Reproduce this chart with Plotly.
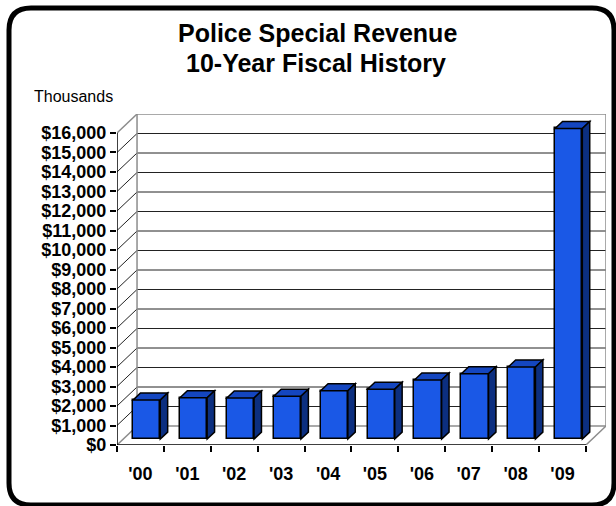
import plotly.graph_objects as go

# ---- data ----
years = ["'00", "'01", "'02", "'03", "'04", "'05", "'06", "'07", "'08", "'09"]
revenue = [2000, 2120, 2110, 2200, 2480, 2560, 3030, 3350, 3700, 15930]
y_ticks = list(range(0, 16001, 1000))
y_tick_text = [f"${v:,}" for v in y_ticks]

FONT = "Liberation Sans, Arial, sans-serif"
YMAX = 16000
D = 0.427      # depth of the 3D box in category units
DV = 974       # depth of the 3D box in value units
F = 0.31       # depth position of bar front
BD = 0.37      # bar depth fraction
W = 0.58       # bar width (categories)
n = len(years)

FRONT = "#1a58e6"
TOP = "#1446c0"
SIDE = "#0c2f80"
GRID = "#222222"
EDGE = "#8c8c8c"

x_front = [i + 0.5 + F * D for i in range(n)]
base = F * DV

fig = go.Figure()
fig.add_trace(go.Bar(
    x=x_front, y=revenue, base=base, width=W,
    marker=dict(color=FRONT, line=dict(color="black", width=1.5)),
    hoverinfo="skip", showlegend=False,
))

shapes = []

def line(x0, y0, x1, y1, color, width=1, layer="below"):
    shapes.append(dict(type="line", xref="x", yref="y", x0=x0, y0=y0, x1=x1, y1=y1,
                       line=dict(color=color, width=width), layer=layer))

# back wall gridlines and left wall diagonals
for v in y_ticks[1:-1]:
    line(D, v + DV, n + D, v + DV, GRID)
    line(0, v, D, v + DV, GRID)
# walls/floor edges
line(D, DV, D, YMAX + DV, EDGE, 1.5)
line(n + D, DV, n + D, YMAX + DV, EDGE, 1.5)
line(D, YMAX + DV, n + D, YMAX + DV, EDGE, 1.5)
line(0, YMAX, D, YMAX + DV, EDGE, 1.5)
line(D, DV, n + D, DV, EDGE, 1.5)
line(0, 0, D, DV, EDGE, 1.5)
line(n, 0, n + D, DV, EDGE, 1.5)
# axes lines
line(0, 0, 0, YMAX, "black", 1.5)
line(0, 0, n, 0, "black", 1.5)

# bar top and side faces
dx = BD * D
dy = BD * DV
for xc, v in zip(x_front, revenue):
    xl = xc - W / 2
    xr = xc + W / 2
    yt = base + v
    top = f"M{xl},{yt} L{xr},{yt} L{xr+dx},{yt+dy} L{xl+dx},{yt+dy} Z"
    side = f"M{xr},{base} L{xr},{yt} L{xr+dx},{yt+dy} L{xr+dx},{base+dy} Z"
    shapes.append(dict(type="path", xref="x", yref="y", path=top, fillcolor=TOP,
                       line=dict(color="black", width=1.5), layer="above"))
    shapes.append(dict(type="path", xref="x", yref="y", path=side, fillcolor=SIDE,
                       line=dict(color="black", width=1.5), layer="above"))

# rounded outer frame (pixel -> paper conversion)
L, T, R, B = 117, 114, 606, 445
def px(xp):
    return (xp - L) / (R - L)
def py(yp):
    return (B - yp) / (B - T)
fx0, fy0, fx1, fy1, rad = 9, 8, 614, 505, 22
frame = (f"M{px(fx0+rad)},{py(fy0)} L{px(fx1-rad)},{py(fy0)} "
         f"Q{px(fx1)},{py(fy0)} {px(fx1)},{py(fy0+rad)} "
         f"L{px(fx1)},{py(fy1-rad)} Q{px(fx1)},{py(fy1)} {px(fx1-rad)},{py(fy1)} "
         f"L{px(fx0+rad)},{py(fy1)} Q{px(fx0)},{py(fy1)} {px(fx0)},{py(fy1-rad)} "
         f"L{px(fx0)},{py(fy0+rad)} Q{px(fx0)},{py(fy0)} {px(fx0+rad)},{py(fy0)} Z")
shapes.append(dict(type="path", xref="paper", yref="paper", path=frame,
                   line=dict(color="black", width=5), layer="above"))

annotations = [
    dict(text="Police Special Revenue", x=px(317), y=py(33), xref="paper", yref="paper",
         showarrow=False, xanchor="center", yanchor="middle",
         font=dict(family=FONT, size=25, color="black", weight="bold")),
    dict(text="10-Year Fiscal History", x=px(316), y=py(63), xref="paper", yref="paper",
         showarrow=False, xanchor="center", yanchor="middle",
         font=dict(family=FONT, size=25, color="black", weight="bold")),
    dict(text="Thousands", x=px(32), y=py(96), xref="paper", yref="paper",
         showarrow=False, xanchor="left", yanchor="middle",
         font=dict(family=FONT, size=16, color="black")),
]

fig.update_layout(
    width=616, height=506,
    margin=dict(l=L, r=616 - R, t=T, b=506 - B, pad=0),
    paper_bgcolor="white", plot_bgcolor="white",
    shapes=shapes, annotations=annotations,
    showlegend=False, bargap=0,
    xaxis=dict(
        range=[0, n + D], showgrid=False, zeroline=False, showline=False,
        tickvals=[i + 0.5 for i in range(n)], ticktext=years,
        ticks="outside", ticklen=12, tickcolor="rgba(0,0,0,0)",
        tickfont=dict(family=FONT, size=18, color="black", weight="bold"),
        minor=dict(ticks="outside", ticklen=6, tickcolor="black", tickwidth=1.5,
                   tick0=0, dtick=1, showgrid=False),
        fixedrange=True,
    ),
    yaxis=dict(
        range=[0, YMAX + DV], showgrid=False, zeroline=False, showline=False,
        tickvals=y_ticks, ticktext=y_tick_text,
        ticks="outside", ticklen=6, tickcolor="black", tickwidth=1.5,
        tickfont=dict(family=FONT, size=18, color="black", weight="bold"),
        fixedrange=True,
    ),
)

fig.write_html("out.html")
